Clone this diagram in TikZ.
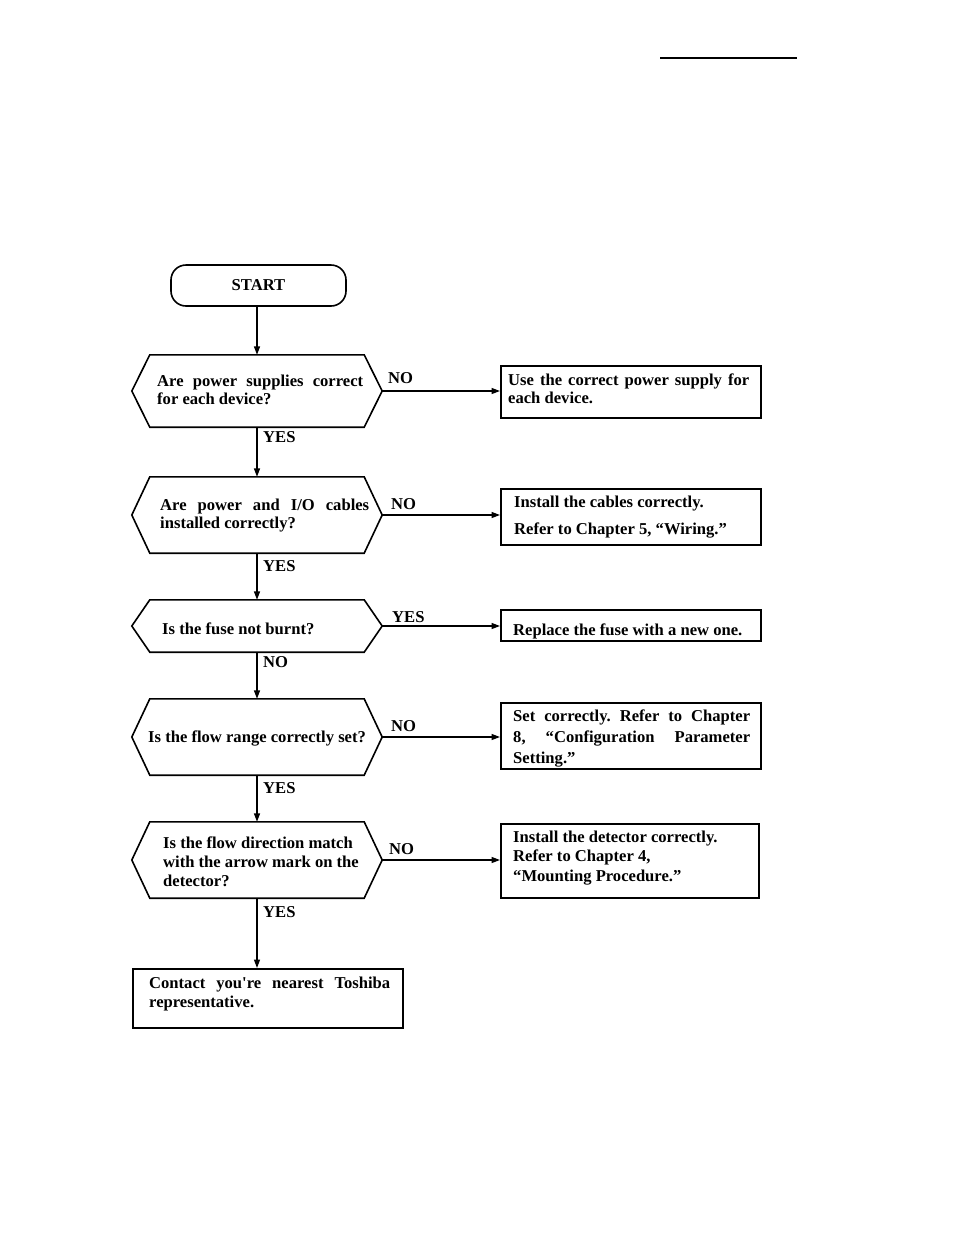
\documentclass[tikz,border=0pt]{standalone}
\usepackage{fontspec}
\setmainfont{Liberation Serif}[Ligatures=TeXOff]
\usetikzlibrary{arrows.meta}
\frenchspacing
\tikzset{
  every node/.style={font=\fontsize{16.6}{18.5}\selectfont\bfseries, inner sep=0pt},
  ln/.style={line width=1.6pt},
  arr/.style={line width=1.4pt, -{Triangle[length=8.5pt,width=6pt]}},
  hexn/.style={rectangle, draw=none, minimum width=250pt},
  boxn/.style={rectangle, draw, line width=1.7pt, anchor=north west},
  txt/.style={anchor=base west, align=justify},
  ltxt/.style={anchor=base west, align=flush left, text width=245pt},
  lbl/.style={anchor=base west},
}
\newcommand\hexshape[1]{%
  \draw[ln] (#1.west) -- ([xshift=18pt]#1.north west) -- ([xshift=-18pt]#1.north east)
    -- (#1.east) -- ([xshift=-18pt]#1.south east) -- ([xshift=18pt]#1.south west) -- cycle;}
\begin{document}
\begin{tikzpicture}[x=1pt,y=-1pt]
\tolerance=10000 \hyphenpenalty=10000 \frenchspacing
\useasboundingbox (0,0) rectangle (954,1235);
% header rule
\draw[line width=1.4pt] (660,58) -- (797,58);

% START
\node[draw, line width=1.6pt, rounded corners=15pt, minimum width=175pt, minimum height=41pt] (start) at (258.5,285.5) {START};

% decision nodes
\node[hexn, minimum height=72pt] (q1) at (257,391) {};
\hexshape{q1}
\node[txt, text width=206pt] (t1) at (157,386) {Are power supplies correct\linebreak for each device?};

\node[hexn, minimum height=76pt] (q2) at (257,515) {};
\hexshape{q2}
\node[txt, text width=209pt] (t2) at (160,510) {Are power and I/O cables\linebreak installed correctly?};

\node[hexn, minimum height=52pt] (q3) at (257,626) {};
\hexshape{q3}
\node[lbl] (t3) at (162,634) {Is the fuse not burnt?};

\node[hexn, minimum height=76pt] (q4) at (257,737) {};
\hexshape{q4}
\node[lbl] (t4) at (148,742) {Is the flow range correctly set?};

\node[hexn, minimum height=76pt] (q5) at (257,860) {};
\hexshape{q5}
\node[ltxt, text width=210pt, font=\fontsize{16.6}{19}\selectfont\bfseries] (t5) at (163,848) {Is the flow direction match\\with the arrow mark on the\\detector?};

% action boxes
\node[boxn, minimum width=260pt, minimum height=52pt] (b1) at (500,365) {};
\node[txt, text width=241pt] (s1) at (508,385) {Use the correct power supply for\linebreak each device.};

\node[boxn, minimum width=260pt, minimum height=56pt] (b2) at (500,488) {};
\node[ltxt] (s2) at (514,507) {Install the cables correctly.\\[8.5pt]Refer to Chapter 5, “Wiring.”};

\node[boxn, minimum width=260pt, minimum height=31pt] (b3) at (500,609) {};
\node[lbl] (s3) at (513,635) {Replace the fuse with a new one.};

\node[boxn, minimum width=260pt, minimum height=66pt] (b4) at (500,702) {};
\node[txt, text width=237pt, font=\fontsize{16.6}{21}\selectfont\bfseries] (s4) at (513,721) {Set correctly. Refer to Chapter\linebreak 8, “Configuration Parameter\linebreak Setting.”};

\node[boxn, minimum width=258pt, minimum height=74pt] (b5) at (500,823) {};
\node[ltxt, font=\fontsize{16.6}{19.5}\selectfont\bfseries] (s5) at (513,842) {Install the detector correctly.\\Refer to Chapter 4,\\“Mounting Procedure.”};

\node[boxn, minimum width=270pt, minimum height=59pt] (b6) at (132,968) {};
\node[txt, text width=241pt, font=\fontsize{16.6}{19.5}\selectfont\bfseries] (s6) at (149,988) {Contact you're nearest Toshiba\linebreak representative.};

% vertical connectors
\draw[arr] (start.south -| q1.north) -- (q1.north);
\draw[arr] (q1.south) -- (q2.north);
\draw[arr] (q2.south) -- (q3.north);
\draw[arr] (q3.south) -- (q4.north);
\draw[arr] (q4.south) -- (q5.north);
\draw[arr] (q5.south) -- (q5.south |- b6.north);

% horizontal connectors
\draw[arr] (q1.east) -- (q1.east -| b1.west);
\draw[arr] (q2.east) -- (q2.east -| b2.west);
\draw[arr] (q3.east) -- (q3.east -| b3.west);
\draw[arr] (q4.east) -- (q4.east -| b4.west);
\draw[arr] (q5.east) -- (q5.east -| b5.west);

% labels
\node[lbl] (l1) at (388,383) {NO};
\node[lbl] (l2) at (263,442) {YES};
\node[lbl] (l3) at (391,509) {NO};
\node[lbl] (l4) at (263,571) {YES};
\node[lbl] (l5) at (392,622) {YES};
\node[lbl] (l6) at (263,667) {NO};
\node[lbl] (l7) at (391,731) {NO};
\node[lbl] (l8) at (263,793) {YES};
\node[lbl] (l9) at (389,854) {NO};
\node[lbl] (l10) at (263,917) {YES};
\end{tikzpicture}
\end{document}
